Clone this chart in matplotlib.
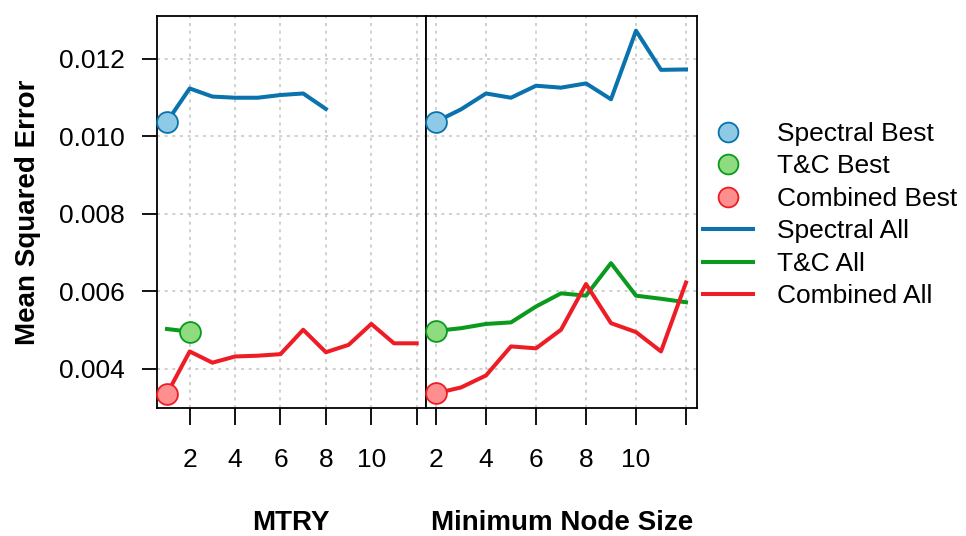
import matplotlib
matplotlib.use("Agg")
import matplotlib.pyplot as plt
from matplotlib.lines import Line2D

# ── Data ──────────────────────────────────────────────────
mtry_x = [1, 2, 3, 4, 5, 6, 7, 8, 9, 10, 11, 12]
mtry_spectral = [0.01038, 0.01124, 0.01103, 0.01100, 0.01100, 0.01107, 0.01111, 0.01071]
mtry_tc = [0.00503, 0.00496]
mtry_combined = [0.003355, 0.00445, 0.00416, 0.00432, 0.00434, 0.00438,
                 0.00501, 0.00443, 0.00462, 0.00516, 0.00466, 0.00466]

node_x = [2, 3, 4, 5, 6, 7, 8, 9, 10, 11, 12]
node_spectral = [0.01038, 0.01070, 0.01111, 0.01100, 0.01131, 0.01126,
                 0.01137, 0.01096, 0.01273, 0.01172, 0.01173]
node_tc = [0.00498, 0.00505, 0.00516, 0.00520, 0.00561, 0.00595,
           0.00589, 0.00673, 0.00589, 0.00581, 0.00572]
node_combined = [0.00337, 0.00352, 0.00383, 0.00458, 0.00453, 0.00501,
                 0.00619, 0.00518, 0.00495, 0.00445, 0.00623]

# best points (x, y) per panel
mtry_best = {"Spectral": (1, 0.01038), "T&C": (2, 0.00496), "Combined": (1, 0.003355)}
node_best = {"Spectral": (2, 0.01038), "T&C": (2, 0.00498), "Combined": (2, 0.00337)}

x_ticks = [2, 4, 6, 8, 10, 12]
x_ticklabels = ["2", "4", "6", "8", "10", ""]
y_ticks = [0.004, 0.006, 0.008, 0.010, 0.012]

# ── Style ────────────────────────────────────────────────
plt.rcParams["font.family"] = ["Liberation Sans", "DejaVu Sans"]
FS = 19
FS_LAB = 20
LINE_COL = {"Spectral": "#0a72ad", "T&C": "#0a9a1e", "Combined": "#ee1d25"}
FILL_COL = {"Spectral": "#8ecae6", "T&C": "#8fdb7f", "Combined": "#ff8e8e"}
LW = 2.9
MS = 15

fig = plt.figure(figsize=(9.66, 5.36), dpi=100)
W, H = 966, 536


def add_ax(x0, x1, y0=16, y1=408):
    return fig.add_axes([x0 / W, 1 - y1 / H, (x1 - x0) / W, (y1 - y0) / H])


ax1 = add_ax(157, 426)
ax2 = add_ax(426, 697)


def style(ax, xlim):
    ax.set_xlim(*xlim)
    ax.set_ylim(0.00299, 0.01311)
    ax.set_xticks(x_ticks)
    ax.set_xticklabels(x_ticklabels, fontsize=FS)
    ax.set_yticks(y_ticks)
    ax.grid(True, color="#c4c4c4", linestyle=(0, (2, 3)), linewidth=1.1)
    ax.set_axisbelow(True)
    ax.tick_params(axis="x", length=12, width=1.3, pad=17, direction="out")
    ax.tick_params(axis="y", length=11, width=1.3, pad=12, labelsize=FS)
    for s in ax.spines.values():
        s.set_linewidth(1.3)


style(ax1, (0.56, 12.41))
style(ax2, (1.6, 12.44))
ax1.set_yticklabels([f"{v:.3f}" for v in y_ticks])
ax2.tick_params(axis="y", left=False, labelleft=False)

# ── Lines ────────────────────────────────────────────────
ax1.plot(mtry_x[:len(mtry_spectral)], mtry_spectral, color=LINE_COL["Spectral"], lw=LW)
ax1.plot(mtry_x[:len(mtry_tc)], mtry_tc, color=LINE_COL["T&C"], lw=LW)
ax1.plot(mtry_x, mtry_combined, color=LINE_COL["Combined"], lw=LW)

ax2.plot(node_x, node_spectral, color=LINE_COL["Spectral"], lw=LW)
ax2.plot(node_x, node_tc, color=LINE_COL["T&C"], lw=LW)
ax2.plot(node_x, node_combined, color=LINE_COL["Combined"], lw=LW)

for ax, best in [(ax1, mtry_best), (ax2, node_best)]:
    for k, (bx, by) in best.items():
        ax.plot([bx], [by], "o", ms=MS, mfc=FILL_COL[k], mec=LINE_COL[k],
                mew=1.3, clip_on=False, zorder=5)

# ── Labels ───────────────────────────────────────────────
fig.text(28 / W, 1 - 212 / H, "Mean Squared Error", rotation=90, fontsize=FS_LAB,
         fontweight="bold", ha="center", va="center")
fig.text(291 / W, 1 - 523 / H, "MTRY", fontsize=FS_LAB, fontweight="bold",
         ha="center", va="center")
fig.text(562 / W, 1 - 523 / H, "Minimum Node Size", fontsize=FS_LAB, fontweight="bold",
         ha="center", va="center")

# ── Legend ───────────────────────────────────────────────
handles = []
labels = []
for k in ["Spectral", "T&C", "Combined"]:
    handles.append(Line2D([], [], ls="none", marker="o", ms=MS * 0.95,
                          mfc=FILL_COL[k], mec=LINE_COL[k], mew=1.3))
    labels.append(f"{k} Best")
for k in ["Spectral", "T&C", "Combined"]:
    handles.append(Line2D([], [], color=LINE_COL[k], lw=LW))
    labels.append(f"{k} All")

fig.legend(handles, labels, loc="upper left", bbox_to_anchor=(703 / W, 1 - 122 / H),
           frameon=False, fontsize=FS, handlelength=1.9, handletextpad=0.9,
           labelspacing=0.32, borderpad=0, borderaxespad=0)

fig.savefig("out.png", dpi=100)
